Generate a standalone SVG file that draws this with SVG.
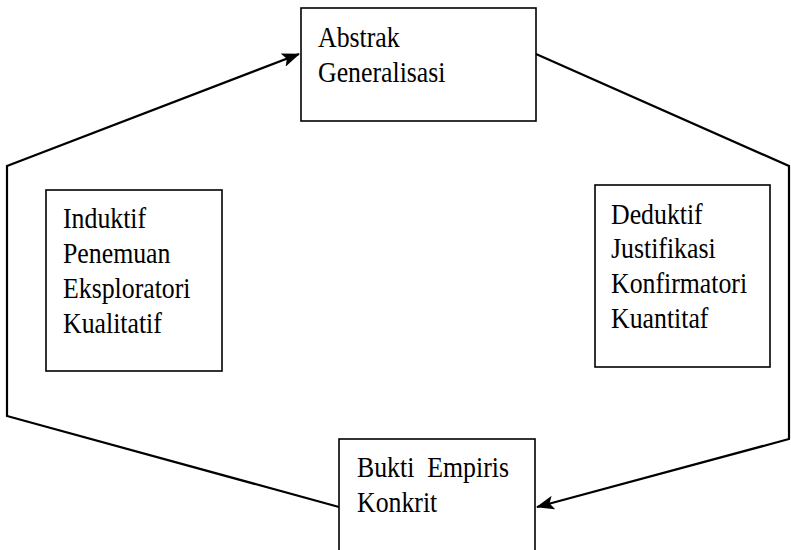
<svg xmlns="http://www.w3.org/2000/svg" width="791" height="550" viewBox="0 0 791 550">
  <style>
    .box { fill: #ffffff; stroke: #000000; stroke-width: 1.6; }
    .link { fill: none; stroke: #000000; stroke-width: 2.2; stroke-linejoin: miter; }
    .label { font-family: "Liberation Serif", "Times New Roman", serif; font-size: 29px; fill: #000000; white-space: pre; }
  </style>
  <defs>
    <marker id="arrow" viewBox="0 0 18 14" refX="17" refY="7" markerWidth="18" markerHeight="14" markerUnits="userSpaceOnUse" orient="auto">
      <path d="M0,0 L18,7 L0,14 L4,7 Z" fill="#000000"/>
    </marker>
  </defs>

  <!-- connectors of the cycle -->
  <g id="connectors">
    <polyline class="link" points="339,507 7,416 7,166 299,54" marker-end="url(#arrow)"/>
    <polyline class="link" points="536,54 789,166 789,439 537,507" marker-end="url(#arrow)"/>
  </g>

  <g id="abstrak">
    <rect class="box" x="301" y="8" width="235" height="113"/>
    <text class="label" transform="translate(318,47) scale(0.89,1)"><tspan x="0" y="0">Abstrak</tspan><tspan x="0" y="35">Generalisasi</tspan></text>
  </g>

  <g id="induktif">
    <rect class="box" x="46" y="190" width="176" height="181"/>
    <text class="label" transform="translate(63,228) scale(0.89,1)"><tspan x="0" y="0">Induktif</tspan><tspan x="0" y="35">Penemuan</tspan><tspan x="0" y="70">Eksploratori</tspan><tspan x="0" y="105">Kualitatif</tspan></text>
  </g>

  <g id="deduktif">
    <rect class="box" x="595" y="185" width="175" height="182"/>
    <text class="label" transform="translate(611,224) scale(0.89,1)"><tspan x="0" y="0">Deduktif</tspan><tspan x="0" y="34.5">Justifikasi</tspan><tspan x="0" y="69">Konfirmatori</tspan><tspan x="0" y="104">Kuantitaf</tspan></text>
  </g>

  <g id="bukti">
    <rect class="box" x="339" y="439" width="196" height="130"/>
    <text class="label" transform="translate(357,477) scale(0.89,1)"><tspan x="0" y="0">Bukti  Empiris</tspan><tspan x="0" y="35">Konkrit</tspan></text>
  </g>
</svg>
